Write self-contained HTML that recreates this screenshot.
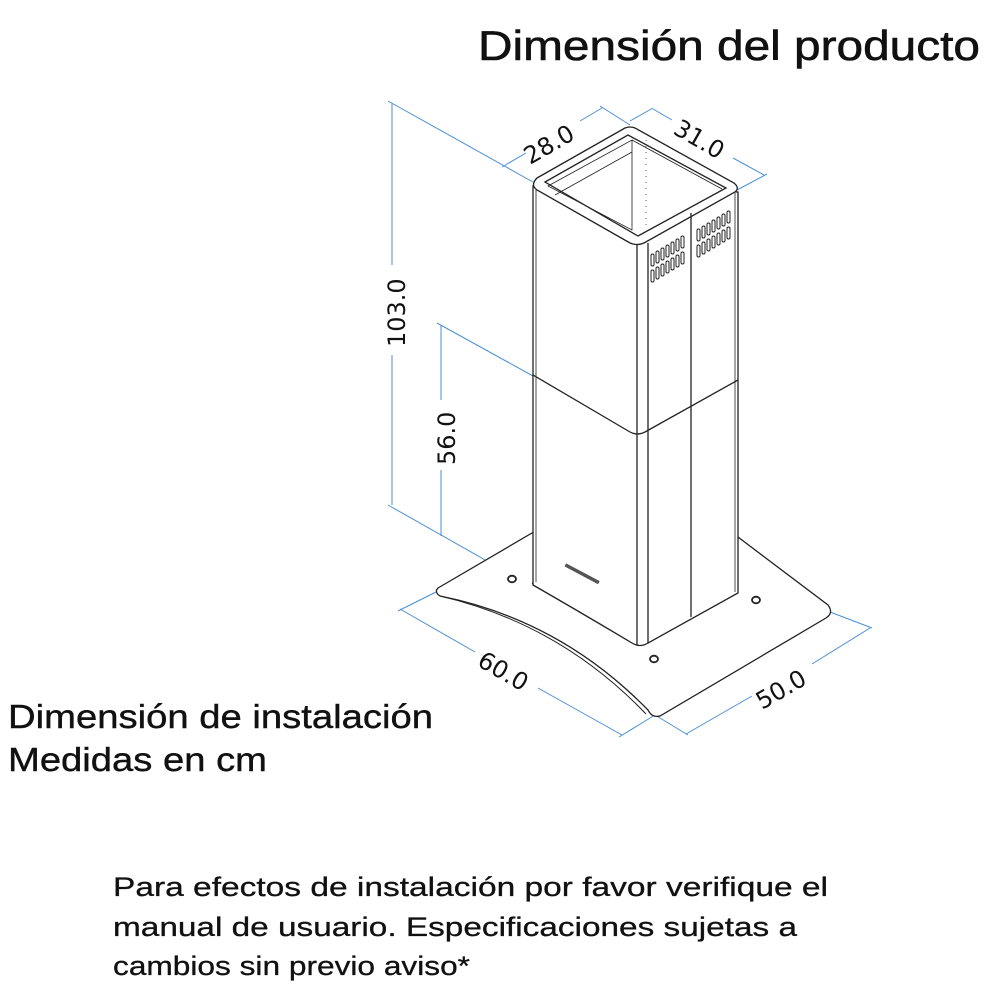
<!DOCTYPE html>
<html><head><meta charset="utf-8"><style>html,body{margin:0;padding:0;background:#fff}svg{display:block}</style></head>
<body>
<svg width="1000" height="1000" viewBox="0 0 1000 1000" xmlns="http://www.w3.org/2000/svg" font-family="Liberation Sans, Arial, sans-serif">
<rect width="1000" height="1000" fill="#fff"/>
<text x="478" y="60" font-size="42" fill="#111" stroke="#111" stroke-width="0.6" textLength="502" lengthAdjust="spacingAndGlyphs">Dimensión del producto</text>
<text x="8" y="728" font-size="33" fill="#111" stroke="#111" stroke-width="0.4" textLength="425" lengthAdjust="spacingAndGlyphs">Dimensión de instalación</text>
<text x="8" y="771" font-size="33" fill="#111" stroke="#111" stroke-width="0.4" textLength="259" lengthAdjust="spacingAndGlyphs">Medidas en cm</text>
<text x="113" y="896" font-size="27" fill="#111" stroke="#111" stroke-width="0.3" textLength="715" lengthAdjust="spacingAndGlyphs">Para efectos de instalación por favor verifique el</text>
<text x="113" y="936" font-size="27" fill="#111" stroke="#111" stroke-width="0.3" textLength="684" lengthAdjust="spacingAndGlyphs">manual de usuario. Especificaciones sujetas a</text>
<text x="113" y="975" font-size="27" fill="#111" stroke="#111" stroke-width="0.3" textLength="357" lengthAdjust="spacingAndGlyphs">cambios sin previo aviso*</text>

<!-- dimension lines -->
<g stroke="#4a8fd6" stroke-width="1" fill="none">
<line x1="392" y1="103" x2="392" y2="265"/><line x1="392" y1="355" x2="392" y2="505"/>
<line x1="388" y1="101" x2="533" y2="182"/>
<line x1="388" y1="505" x2="533" y2="587"/>
<line x1="441" y1="325" x2="441" y2="400"/><line x1="441" y1="470" x2="441" y2="536"/>
<line x1="437" y1="323" x2="533" y2="376"/>
<line x1="502" y1="167" x2="526" y2="153"/><line x1="580" y1="121" x2="602" y2="108"/>
<line x1="600" y1="106" x2="630" y2="125"/>
<line x1="653" y1="109" x2="672" y2="120"/><line x1="733" y1="158" x2="764" y2="175"/>
<line x1="653" y1="108" x2="630" y2="121"/><line x1="767" y1="174" x2="737" y2="190"/>
<line x1="400" y1="609" x2="475" y2="652"/><line x1="538" y1="688" x2="622" y2="735"/>
<line x1="438" y1="591" x2="398" y2="611"/><line x1="655" y1="715" x2="619" y2="737"/>
<line x1="686" y1="734" x2="752" y2="696"/><line x1="812" y1="664" x2="870" y2="628"/>
<line x1="655" y1="715" x2="688" y2="735"/><line x1="830" y1="612" x2="872" y2="628"/>
</g>
<g font-size="24" fill="#111" font-family="DejaVu Sans, sans-serif">
<text transform="translate(405,347) rotate(-90)">103.0</text>
<text transform="translate(455,465) rotate(-90)">56.0</text>
<text transform="translate(530,165) rotate(-30)">28.0</text>
<text transform="translate(672,133) rotate(30)">31.0</text>
<text transform="translate(476,665) rotate(30)">60.0</text>
<text transform="translate(762,710) rotate(-30)">50.0</text>
</g>

<!-- base plate -->
<g stroke="#222" stroke-width="1.3" fill="#fff">
<path d="M438,588 L532,533 L738,537 L828,605 Q834,613 826,618 L660,716 Q652,718 648,710 Q560,620 440,596 Q434,592 438,588 Z"/>
<path d="M440,596 Q560,624 646,714" fill="none" stroke-width="1"/>
<path d="M532,583 Q580,605 636,643" fill="none"/>
</g>
<!-- column -->
<g stroke="#222" stroke-width="1.3" fill="#fff">
<path d="M533,186 L533,585 Q580,612 632,643 Q640,648 648,643 L738,593 L738,192 Z"/>
<path d="M537,178 L625,128 Q630,126 635,128 L734,183 Q740,188 735,192 L644,243 Q637,246 630,243 L537,190 Q530,185 537,178 Z"/>
<path d="M545,182 L628,135 L726,188 L638,236 Z" fill="#fff"/>
<path d="M548,186 L632,140 L632,230 L548,186Z" fill="none" stroke-width="0.8"/>
<line x1="632" y1="140" x2="722" y2="189" stroke-width="0.8"/>
<line x1="555" y1="195" x2="632" y2="152" stroke-width="0.8"/>
<line x1="637" y1="245" x2="637" y2="645"/>
<line x1="648" y1="243" x2="648" y2="643"/>
<line x1="691" y1="213" x2="691" y2="617"/>
<line x1="536" y1="190" x2="536" y2="582" stroke-width="0.8"/>
<line x1="735" y1="193" x2="735" y2="592" stroke-width="0.8"/>
<path d="M533,375 L630,432 Q637,436 645,432 L738,380" fill="none"/>
</g>
<g stroke="#333" stroke-width="0.8" fill="none" stroke-dasharray="1,5">
<line x1="646" y1="140" x2="646" y2="230"/>
</g>
<!-- vents -->
<g fill="#fff" stroke="#222" stroke-width="1">
<g id="v1">
<rect x="651" y="254" width="3" height="12" rx="1.5"/><rect x="656" y="251" width="3" height="12" rx="1.5"/><rect x="661" y="248" width="3" height="12" rx="1.5"/><rect x="666" y="245" width="3" height="12" rx="1.5"/><rect x="671" y="242" width="3" height="12" rx="1.5"/><rect x="676" y="239" width="3" height="12" rx="1.5"/><rect x="681" y="236" width="3" height="12" rx="1.5"/>
</g>
<use href="#v1" y="16"/>
<use href="#v1" x="46" y="-25"/>
<use href="#v1" x="46" y="-9"/>
</g>
<!-- brand & holes -->
<rect x="563" y="572" width="38" height="3.5" fill="#555" transform="rotate(28 582 574)"/>
<g fill="#fff" stroke="#222" stroke-width="1.8">
<ellipse cx="512" cy="579" rx="4" ry="3.3"/>
<ellipse cx="654" cy="659" rx="4" ry="3.3"/>
<ellipse cx="756" cy="600" rx="4" ry="3.3"/>
</g>
</svg>
</body></html>
